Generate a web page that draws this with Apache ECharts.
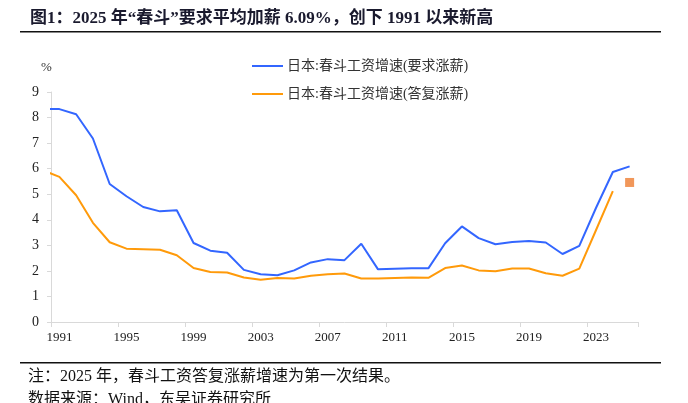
<!DOCTYPE html>
<html><head><meta charset="utf-8">
<script src="https://cdn.jsdelivr.net/npm/echarts@6/dist/echarts.min.js"></script>
<style>html,body{margin:0;padding:0;background:#fff}#c{width:688px;height:403px}</style>
</head><body><div id="c"></div>
<script>
const years = ['1990','1991','1992','1993','1994','1995','1996','1997','1998','1999',
  '2000','2001','2002','2003','2004','2005','2006','2007','2008','2009',
  '2010','2011','2012','2013','2014','2015','2016','2017','2018','2019',
  '2020','2021','2022','2023','2024','2025'];
const demand = [8.33,8.33,8.13,7.18,5.40,4.92,4.50,4.33,4.37,3.09,
  2.79,2.71,2.04,1.87,1.83,2.02,2.33,2.46,2.42,3.06,
  2.06,2.08,2.10,2.10,3.08,3.74,3.28,3.04,3.13,3.17,
  3.11,2.66,2.98,4.47,5.87,6.09];
const settled = [5.94,5.68,4.96,3.88,3.12,2.87,2.85,2.83,2.61,2.11,
  1.96,1.94,1.74,1.65,1.72,1.70,1.81,1.87,1.90,1.70,
  1.70,1.72,1.74,1.73,2.11,2.21,2.02,1.99,2.09,2.09,
  1.91,1.81,2.09,3.60,5.12,null];
const firstResult = [['2025', 5.46]];
const names = ['日本:春斗工资增速(要求涨薪)', '日本:春斗工资增速(答复涨薪)'];
const titleText = '图1：2025 年“春斗”要求平均加薪 6.09%，创下 1991 以来新高';
const note1 = '注：2025 年，春斗工资答复涨薪增速为第一次结果。';
const note2 = '数据来源：Wind，东吴证券研究所';

const serif = '"Liberation Serif","Times New Roman","Noto Sans CJK SC"';
const every4 = (i, v) => (parseInt(v, 10) - 1991) % 4 === 0;

const chart = echarts.init(document.getElementById('c'), null, {renderer: 'canvas'});
chart.setOption({
  animation: false,
  backgroundColor: '#fff',
  grid: {left: 51, right: 50, top: 92, bottom: 81, containLabel: false},
  legend: {
    data: names,
    orient: 'vertical',
    left: 252, top: 58,
    padding: 0,
    icon: 'rect',
    itemWidth: 31, itemHeight: 2, itemGap: 12,
    textStyle: {fontFamily: serif, fontSize: 14, color: '#333', padding: [0, 0, 0, -1], lineHeight: 16},
    selectedMode: false
  },
  xAxis: {
    type: 'category',
    data: years,
    min: 1,
    boundaryGap: true,
    axisLine: {lineStyle: {color: '#d9d9d9', width: 1}},
    axisTick: {show: true, interval: every4, length: 5, lineStyle: {color: '#d9d9d9'}},
    axisLabel: {interval: every4, margin: 9, fontFamily: serif, fontSize: 13, color: '#222'},
    splitLine: {show: false}
  },
  yAxis: {
    type: 'value',
    min: 0, max: 9, interval: 1,
    name: '%',
    nameLocation: 'end',
    nameGap: 18,
    nameTextStyle: {fontFamily: serif, fontSize: 13, color: '#333', align: 'left', padding: [0, 0, 0, -10]},
    axisLine: {show: true, lineStyle: {color: '#d9d9d9', width: 1}},
    axisTick: {show: true, length: 4, lineStyle: {color: '#d9d9d9'}},
    axisLabel: {margin: 12, fontFamily: serif, fontSize: 14, color: '#222'},
    splitLine: {show: false}
  },
  series: [
    {name: names[0], type: 'line', data: demand, symbol: 'none', clip: true,
      lineStyle: {color: '#3366FF', width: 2}, itemStyle: {color: '#3366FF'}},
    {name: names[1], type: 'line', data: settled, symbol: 'none', clip: true,
      lineStyle: {color: '#FF9A0A', width: 2}, itemStyle: {color: '#FF9A0A'}},
    {name: '2025首次结果', type: 'scatter', data: firstResult, symbol: 'rect', symbolSize: 9,
      itemStyle: {color: '#ED7D31'}, clip: false}
  ],
  graphic: [
    {type: 'text', left: 30, top: 10, style: {text: titleText, font: 'bold 17px ' + serif, fill: '#1a1a2e'}},
    {type: 'rect', shape: {x: 20, y: 31, width: 641, height: 1.6}, style: {fill: '#111'}},
    {type: 'rect', shape: {x: 20, y: 362, width: 641, height: 1.6}, style: {fill: '#111'}},
    {type: 'text', left: 28, top: 369, style: {text: note1, font: '16px ' + serif, fill: '#111'}},
    {type: 'text', left: 28, top: 392, style: {text: note2, font: '16px ' + serif, fill: '#111'}}
  ]
});
</script></body></html>
